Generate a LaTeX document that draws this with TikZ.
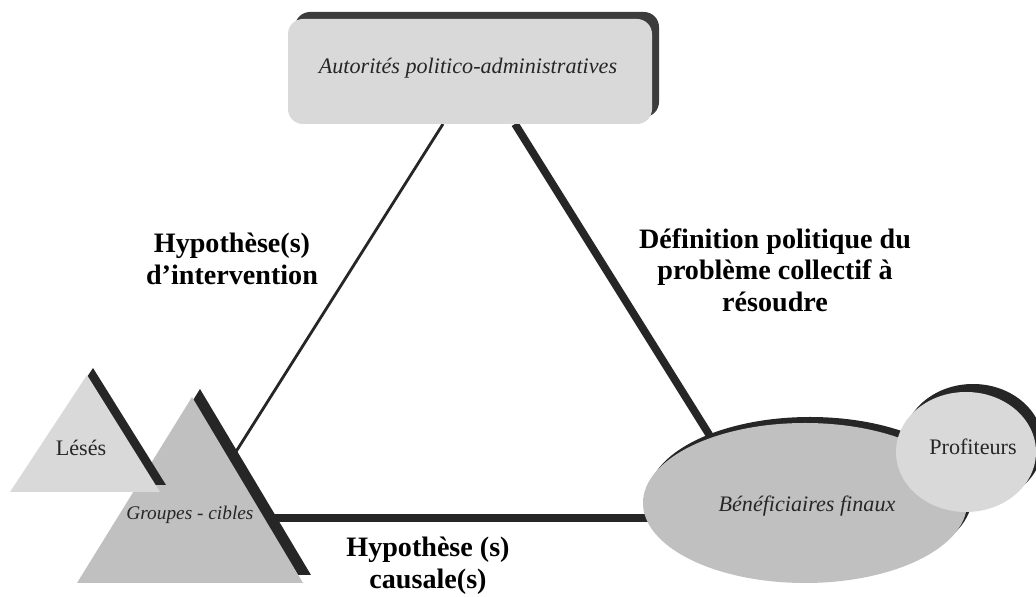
\documentclass[tikz,border=0pt]{standalone}
\usepackage{fontspec}
\setmainfont{Liberation Serif}
\definecolor{lightg}{HTML}{D9D9D9}
\definecolor{midg}{HTML}{C0C0C0}
\definecolor{darkg}{HTML}{262626}
\definecolor{shadowg}{HTML}{3C3C3C}
\tikzset{
  thinline/.style={draw=darkg, line width=1.6pt},
  thickline/.style={draw=darkg, line width=4.4pt},
  lbl/.style={font=\fontsize{16}{18}\selectfont\bfseries, align=center, inner sep=0pt, text=black},
  itl/.style={font=\fontsize{12.6}{15}\selectfont\itshape, inner sep=0pt, text=darkg},
  rgl/.style={font=\fontsize{12.6}{15}\selectfont, inner sep=0pt, text=darkg}
}
\begin{document}
\begin{tikzpicture}[x=0.02cm, y=-0.02cm]
\useasboundingbox (0,0) rectangle (1036,597);
% connector end points
\coordinate (authL) at (443,124);
\coordinate (authR) at (515,124);
\coordinate (grpT) at (232,458);
\coordinate (grpR) at (270,518);
\coordinate (benL) at (660,518);
\coordinate (benT) at (720,452);
% connectors
\draw[thinline] (authL) -- (grpT);
\draw[thickline] (authR) -- (benT);
\draw[thickline] (grpR) -- (benL);
% Beneficiaires
\fill[darkg] (810,497) ellipse (162 and 80);
\fill[midg] (805,503) ellipse (162 and 80);
% Profiteurs
\fill[darkg] (973,444) ellipse (70 and 60);
\fill[lightg] (966,452) ellipse (70 and 60);
% Groupes cibles
\fill[darkg] (200,389) -- (85,575) -- (311,575) -- cycle;
\fill[midg] (192,397) -- (77,583) -- (303,583) -- cycle;
% Leses
\fill[darkg] (93,368) -- (16,485) -- (166,485) -- cycle;
\fill[lightg] (87,375) -- (10,492) -- (160,492) -- cycle;
% Authorities box
\fill[shadowg, rounded corners=0.3cm] (295,12) rectangle (659,117);
\fill[lightg, rounded corners=0.3cm] (288,19) rectangle (652,124);
% texts
\node[itl] (auth) at (468,68) {Autorités politico-administratives};
\node[itl] (ben) at (807,506) {Bénéficiaires finaux};
\node[rgl] (prof) at (973,447) {Profiteurs};
\node[rgl] (les) at (81,448) {Lésés};
\node[itl, font=\fontsize{11}{13}\selectfont\itshape] (grp) at (190,515) {Groupes - cibles};
\node[lbl] (hint) at (232,259) {Hypothèse(s)\\d’intervention};
\node[lbl] (hdef) at (775,270) {Définition politique du\\problème collectif à\\résoudre};
\node[lbl] (hcau) at (428,566) {Hypothèse (s)\\causale(s)};
\end{tikzpicture}
\end{document}
